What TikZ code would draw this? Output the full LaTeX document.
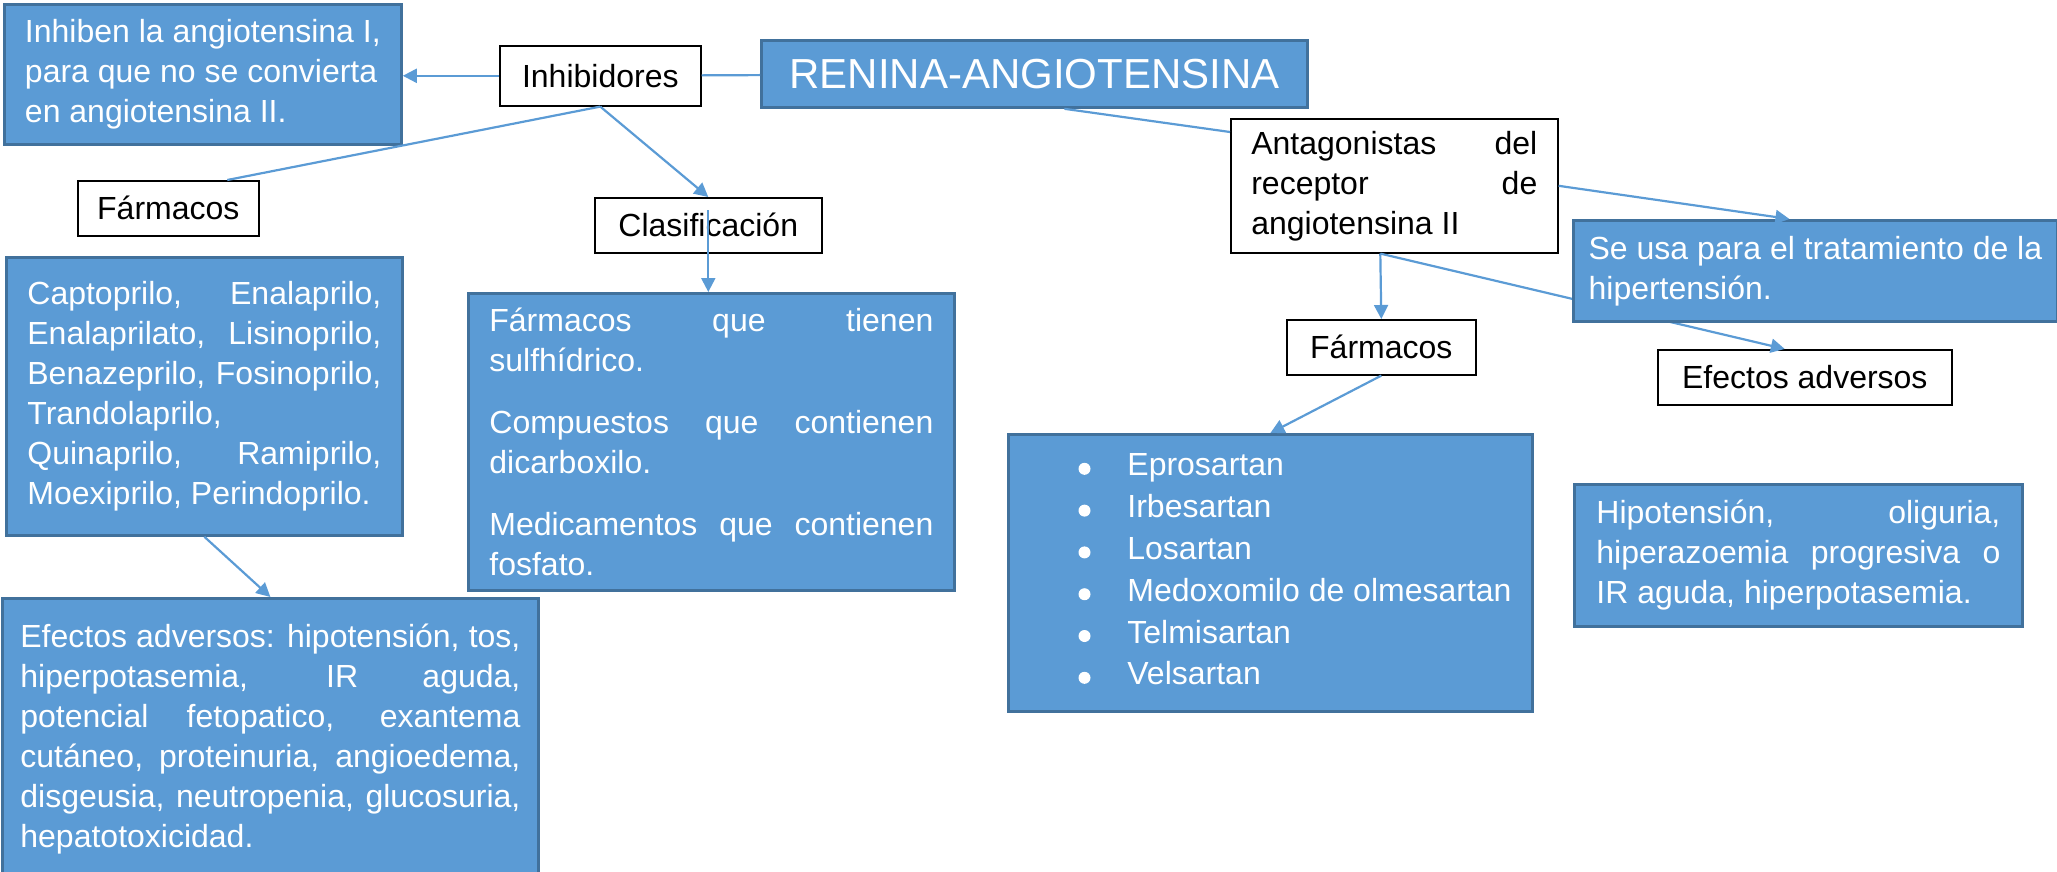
\documentclass[tikz,border=0pt]{standalone}
\usepackage{fontspec}
\setmainfont{Liberation Sans}
\usetikzlibrary{arrows.meta}
\definecolor{ofblue}{HTML}{5B9BD5}
\definecolor{ofedge}{HTML}{41719C}
\tikzset{
  bluebox/.style={draw=ofedge,fill=ofblue,line width=1.4pt,text=white,anchor=north west,align=justify},
  whitebox/.style={draw=black,fill=white,line width=0.8pt,anchor=north west,inner sep=0pt},
  conn/.style={draw=ofblue,line width=1.1pt},
  connarrow/.style={conn,-{Triangle[length=7pt,width=7pt]}}
}
\tolerance=10000
\hbadness=10000
\hyphenpenalty=10000
\begin{document}
\begin{tikzpicture}[x=0.5pt,y=-0.5pt,font=\fontsize{16}{20}\selectfont]
\useasboundingbox (0,0) rectangle (2057,872);

\node[whitebox,minimum width=100.5pt,minimum height=30pt] (inhib) at (499,45) {Inhibidores};
\node[bluebox,align=center,minimum width=273pt,minimum height=33.5pt,font=\fontsize{21}{25}\selectfont] (renina) at (760,39) {RENINA-ANGIOTENSINA};
\node[bluebox,align=left,minimum width=198.5pt,minimum height=70pt] (inhibDef) at (3,3)
  {Inhiben la angiotensina I,\\para que no se convierta\\en angiotensina II.};
\node[whitebox,minimum width=90.5pt,minimum height=27.5pt] (farmIECA) at (77,180) {Fármacos};
\node[whitebox,minimum width=113.5pt,minimum height=27.5pt] (clasif) at (594,197) {Clasificación};
\node[bluebox,text width=177pt,inner xsep=10.5pt,minimum height=139pt] (listIECA) at (5,256)
  {Captoprilo, Enalaprilo,\linebreak Enalaprilato, Lisinoprilo,\linebreak Benazeprilo, Fosinoprilo,\linebreak Trandolaprilo,\linebreak Quinaprilo, Ramiprilo,\linebreak Moexiprilo, Perindoprilo.};
\node[bluebox,text width=222pt,inner xsep=10.5pt,minimum height=148.5pt] (clasifDef) at (467,292)
  {Fármacos que tienen\linebreak sulfhídrico.\par\vspace{11pt}
   Compuestos que contienen\linebreak dicarboxilo.\par\vspace{11pt}
   Medicamentos que contienen\linebreak fosfato.};
\node[bluebox,text width=250pt,inner xsep=9pt,minimum height=140.5pt] (efIECA) at (1,597)
  {Efectos adversos: hipotensión, tos,\linebreak hiperpotasemia, IR aguda,\linebreak potencial fetopatico, exantema\linebreak cutáneo, proteinuria, angioedema,\linebreak disgeusia, neutropenia, glucosuria,\linebreak hepatotoxicidad.};

\node[whitebox,inner sep=0pt,inner xsep=10.25pt,text width=143pt,minimum height=67pt,align=justify] (ara) at (1230,118)
  {Antagonistas del\linebreak receptor de\linebreak angiotensina II};
\node[whitebox,minimum width=94.5pt,minimum height=27.5pt] (farmARA) at (1286,319) {Fármacos};
\node[whitebox,minimum width=147pt,minimum height=27.5pt] (efARA) at (1657,349) {Efectos adversos};
\node[bluebox,minimum width=262pt,minimum height=138.5pt] (listARA) at (1007,433) {};
\foreach \drug [count=\k] in {Eprosartan,Irbesartan,Losartan,Medoxomilo de olmesartan,Telmisartan,Velsartan} {
  \node[text=white,anchor=base west,inner sep=0pt] (araDrug\k) at (1127,434+41.8*\k) {\drug};
  \fill[white] ([xshift=-21.25pt,yshift=3.5pt]araDrug\k.base west) circle (3pt);
}
\node[bluebox,text width=202pt,inner xsep=11pt,minimum height=71pt] (efARAdef) at (1573,483)
  {Hipotensión, oliguria,\linebreak hiperazoemia progresiva o\linebreak IR aguda, hiperpotasemia.};

\draw[connarrow] (inhib.west) -- (inhibDef.east |- inhib.west);
\draw[conn] (renina) -- (inhib);
\draw[conn] (inhib.south) -- ([xshift=29.5pt]farmIECA.north);
\draw[connarrow] (inhib.south) -- (clasif.north);
\draw[connarrow] ([yshift=-6.5pt]clasif.north) -- (clasif.north |- clasifDef.north);
\draw[connarrow] (listIECA.south) -- (efIECA.north);
\draw[conn] ([xshift=15pt]renina.south) -- ([yshift=-7pt]ara.north west);
\draw[connarrow] ([xshift=-7pt]ara.south) -- (farmARA.north);
\draw[connarrow] ([xshift=-7pt]ara.south) -- ([xshift=-10pt]efARA.north);
\draw[connarrow] (farmARA.south) -- (listARA.north);

\node[bluebox,align=left,minimum width=242pt,minimum height=50.5pt] (araUso) at (1572,219)
  {Se usa para el tratamiento de la\\hipertensión.};
\draw[connarrow] (ara.east) -- ([xshift=-13pt]araUso.north);
\end{tikzpicture}
\end{document}
